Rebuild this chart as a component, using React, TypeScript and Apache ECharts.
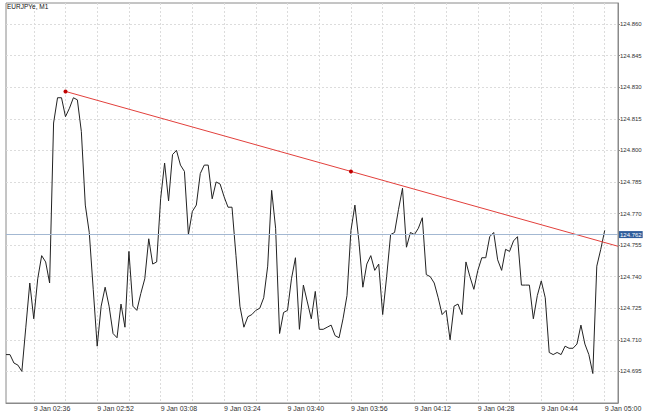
import React, { useEffect, useRef } from "react";
import * as echarts from "echarts";

const START_TIME = "02:29";
const prices: number[] = [
  124.703, 124.703, 124.699, 124.698, 124.695, 124.716, 124.737, 124.720, 124.739, 124.750,
  124.747, 124.737, 124.813, 124.825, 124.825, 124.816, 124.820, 124.825, 124.824, 124.809,
  124.774, 124.761, 124.734, 124.707, 124.726, 124.735, 124.726, 124.713, 124.711, 124.727,
  124.716, 124.752, 124.726, 124.724, 124.732, 124.739, 124.758, 124.746, 124.747, 124.777,
  124.794, 124.776, 124.798, 124.800, 124.793, 124.790, 124.760, 124.771, 124.774, 124.789,
  124.793, 124.793, 124.777, 124.785, 124.784, 124.778, 124.773, 124.773, 124.750, 124.726,
  124.716, 124.721, 124.722, 124.724, 124.725, 124.730, 124.745, 124.781, 124.763, 124.713,
  124.723, 124.724, 124.739, 124.749, 124.715, 124.736, 124.728, 124.720, 124.733, 124.715,
  124.715, 124.716, 124.717, 124.712, 124.711, 124.720, 124.731, 124.762, 124.774, 124.757,
  124.735, 124.746, 124.750, 124.743, 124.746, 124.722, 124.740, 124.760, 124.761, 124.772,
  124.782, 124.754, 124.761, 124.760, 124.763, 124.768, 124.741, 124.740, 124.737, 124.730,
  124.722, 124.724, 124.710, 124.726, 124.727, 124.722, 124.747, 124.740, 124.734, 124.743,
  124.749, 124.749, 124.759, 124.761, 124.748, 124.743, 124.753, 124.752, 124.757, 124.759,
  124.736, 124.736, 124.736, 124.720, 124.731, 124.738, 124.730, 124.704, 124.703, 124.704,
  124.703, 124.707, 124.706, 124.706, 124.708, 124.717, 124.708, 124.703, 124.694, 124.745,
  124.753, 124.762,
];

const xGridTimes = [
  "02:36", "02:44", "02:52", "03:00", "03:08", "03:16", "03:24", "03:32", "03:40", "03:48",
  "03:56", "04:04", "04:12", "04:20", "04:28", "04:36", "04:44", "04:52", "05:00",
];
const xLabelTimes = [
  "02:36", "02:52", "03:08", "03:24", "03:40", "03:56", "04:12", "04:28", "04:44", "05:00",
];
const yTickValues = [
  124.695, 124.71, 124.725, 124.74, 124.755, 124.77, 124.785, 124.8, 124.815, 124.83, 124.845, 124.86,
];
const levelPrice = 124.762;
const trendAnchors = [
  { time: "02:44", price: 124.828 },
  { time: "03:56", price: 124.790 },
];
const TITLE = "EURJPYe, M1";
const DATE_PREFIX = "9 Jan ";

const toMin = (t: string) => {
  const [h, m] = t.split(":").map(Number);
  return h * 60 + m;
};
const fmtMin = (v: number) => {
  const r = Math.round(v);
  const h = Math.floor(r / 60);
  const m = r % 60;
  return String(h).padStart(2, "0") + ":" + String(m).padStart(2, "0");
};

const startMin = toMin(START_TIME);
const X_MIN = startMin;
const X_MAX = startMin + 154.35;
const Y_MIN = 124.68;
const Y_MAX = 124.87;

export default function App() {
  const ref = useRef<HTMLDivElement>(null);
  useEffect(() => {
    if (!ref.current) return;
    const chart = echarts.init(ref.current, undefined, { renderer: "svg" });
    const priceData = prices.map((p, i) => [startMin + i, p]);
    const a0 = trendAnchors[0];
    const a1 = trendAnchors[1];
    const t0 = toMin(a0.time);
    const t1 = toMin(a1.time);
    const slope = (a1.price - a0.price) / (t1 - t0);
    const trendData: any[] = [
      [t0, a0.price],
      [t1, a1.price],
      { value: [X_MAX, a1.price + slope * (X_MAX - t1)], symbol: "none" },
    ];
    const gridLine = { show: true, lineStyle: { color: "#dcdcdc", type: [2, 2] as any, width: 1 } };
    chart.setOption({
      animation: false,
      backgroundColor: "#ffffff",
      graphic: [
        {
          type: "text",
          left: 7,
          top: 3,
          style: { text: TITLE, fontSize: 6.5, fill: "#111", fontFamily: "Liberation Sans" },
          z: 100,
        },
      ],
      grid: {
        left: 6,
        right: 32,
        top: 3,
        bottom: 10,
        show: true,
        borderColor: "#8a8a8a",
        borderWidth: 1,
        backgroundColor: "#ffffff",
      },
      xAxis: {
        type: "value",
        min: X_MIN,
        max: X_MAX,
        axisLine: { show: true, lineStyle: { color: "#8a8a8a" } },
        axisTick: { show: false, customValues: xGridTimes.map(toMin) },
        axisLabel: {
          customValues: xLabelTimes.map(toMin),
          formatter: (v: number) => DATE_PREFIX + fmtMin(v),
          fontSize: 7,
          color: "#333",
          fontFamily: "Liberation Sans",
          align: "left",
          margin: 2,
          hideOverlap: false,
        },
        splitLine: gridLine,
      },
      yAxis: {
        type: "value",
        position: "right",
        min: Y_MIN,
        max: Y_MAX,
        axisLine: { show: true, lineStyle: { color: "#8a8a8a" } },
        axisTick: { show: true, length: 2, customValues: yTickValues, lineStyle: { color: "#8a8a8a" } },
        axisLabel: {
          customValues: yTickValues,
          formatter: (v: number) => v.toFixed(3),
          fontSize: 6,
          color: "#333",
          fontFamily: "Liberation Sans",
          margin: 2,
        },
        splitLine: gridLine,
      },
      series: [
        {
          type: "line",
          data: priceData,
          showSymbol: false,
          symbol: "none",
          lineStyle: { color: "#222222", width: 1 },
          z: 3,
          markLine: {
            silent: true,
            symbol: "none",
            data: [{ yAxis: levelPrice }],
            lineStyle: { color: "#a3b8d2", type: "solid", width: 1 },
            label: {
              show: true,
              position: "end",
              distance: 1,
              formatter: levelPrice.toFixed(3),
              backgroundColor: "#2f5d9b",
              color: "#ffffff",
              fontSize: 6,
              fontFamily: "Liberation Sans",
              padding: [1, 1, 0, 1],
            },
          },
        },
        {
          type: "line",
          data: trendData,
          symbol: "circle",
          symbolSize: 4,
          showSymbol: true,
          itemStyle: { color: "#c00000" },
          lineStyle: { color: "#e2403c", width: 1 },
          z: 4,
        },
      ],
    });
    return () => chart.dispose();
  }, []);
  return (
    <div
      ref={ref}
      style={{ position: "fixed", left: 0, top: 0, width: 650, height: 413, background: "#fff" }}
    />
  );
}
